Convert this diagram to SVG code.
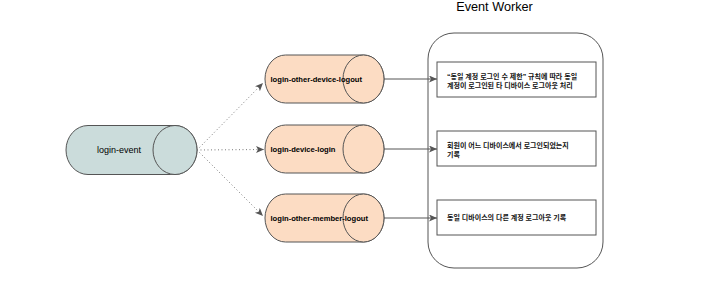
<svg xmlns="http://www.w3.org/2000/svg" width="711" height="283" viewBox="0 0 711 283">
<style>
.cyl-src{fill:#cbdcdb;stroke:#555;stroke-width:1}
.cyl{fill:#fcdcc3;stroke:#555;stroke-width:1}
.lbl{font-family:"Liberation Sans",Arial,sans-serif;fill:#000}
.ko{font-family:"Liberation Sans","Noto Sans CJK KR",sans-serif;font-size:7px;font-weight:bold;fill:#111}
.box{fill:#fff;stroke:#555;stroke-width:1}
.solid{stroke:#555;stroke-width:1;fill:none}
.dot{stroke:#777;stroke-width:1;stroke-dasharray:1 2.5;fill:none}
</style>
<defs>
<marker id="arr" markerUnits="userSpaceOnUse" markerWidth="10" markerHeight="8" refX="8" refY="3.5" orient="auto">
<path d="M0,0 L8,3.5 L0,7 L2,3.5 z" fill="#555"/>
</marker>
</defs>
<rect width="711" height="283" fill="#fff"/>
<text class="lbl" x="494.5" y="10.5" font-size="12.7" text-anchor="middle">Event Worker</text>
<g id="worker">
<rect x="428" y="33" width="175" height="235" rx="26" ry="26" fill="#fff" stroke="#555" stroke-width="1"/>
</g>
<g id="login-event">
<path class="cyl-src" d="M88,125.5 L175,125.5 A22,24.5 0 0 1 175,174.5 L88,174.5 A22,24.5 0 0 1 88,125.5 Z"/>
<ellipse class="cyl-src" cx="175" cy="150" rx="22" ry="24.5"/>
<text class="lbl" x="119" y="153" font-size="9" text-anchor="middle">login-event</text>
</g>
<g id="login-other-device-logout">
<path class="cyl" d="M285.5,55 L363.5,55 A20.5,24 0 0 1 363.5,103 L285.5,103 A20.5,24 0 0 1 285.5,55 Z"/>
<ellipse class="cyl" cx="363.5" cy="79" rx="20.5" ry="24"/>
<text class="lbl" x="270.5" y="81.7" font-size="7.6" font-weight="bold">login-other-device-logout</text>
</g>
<g id="login-device-login">
<path class="cyl" d="M285.5,125 L363.5,125 A20.5,24 0 0 1 363.5,173 L285.5,173 A20.5,24 0 0 1 285.5,125 Z"/>
<ellipse class="cyl" cx="363.5" cy="149" rx="20.5" ry="24"/>
<text class="lbl" x="270.5" y="151.7" font-size="7.6" font-weight="bold">login-device-login</text>
</g>
<g id="login-other-member-logout">
<path class="cyl" d="M285.5,194 L363.5,194 A20.5,24 0 0 1 363.5,242 L285.5,242 A20.5,24 0 0 1 285.5,194 Z"/>
<ellipse class="cyl" cx="363.5" cy="218" rx="20.5" ry="24"/>
<text class="lbl" x="270.5" y="220.7" font-size="7.6" font-weight="bold">login-other-member-logout</text>
</g>
<g id="task1">
<rect class="box" x="437" y="62" width="159" height="35"/>
<text class="ko" x="447" y="79">“동일 계정 로그인 수 제한” 규칙에 따라 동일</text>
<text class="ko" x="447" y="87.5">계정이 로그인된 타 디바이스 로그아웃 처리</text>
</g>
<g id="task2">
<rect class="box" x="437" y="131" width="159" height="35"/>
<text class="ko" x="447" y="148">회원이 어느 디바이스에서 로그인되었는지</text>
<text class="ko" x="447" y="156.5">기록</text>
</g>
<g id="task3">
<rect class="box" x="437" y="200" width="159" height="35"/>
<text class="ko" x="447" y="219.8">동일 디바이스의 다른 계정 로그아웃 기록</text>
</g>
<g id="connectors">
<line class="dot" x1="197" y1="150" x2="263" y2="83" marker-end="url(#arr)"/>
<line class="dot" x1="197" y1="150" x2="264" y2="149.5" marker-end="url(#arr)"/>
<line class="dot" x1="197" y1="150" x2="263" y2="216" marker-end="url(#arr)"/>
<line class="solid" x1="384" y1="79" x2="437" y2="79" marker-end="url(#arr)"/>
<line class="solid" x1="384" y1="149" x2="437" y2="149" marker-end="url(#arr)"/>
<line class="solid" x1="384" y1="218" x2="437" y2="218" marker-end="url(#arr)"/>
</g>
</svg>
